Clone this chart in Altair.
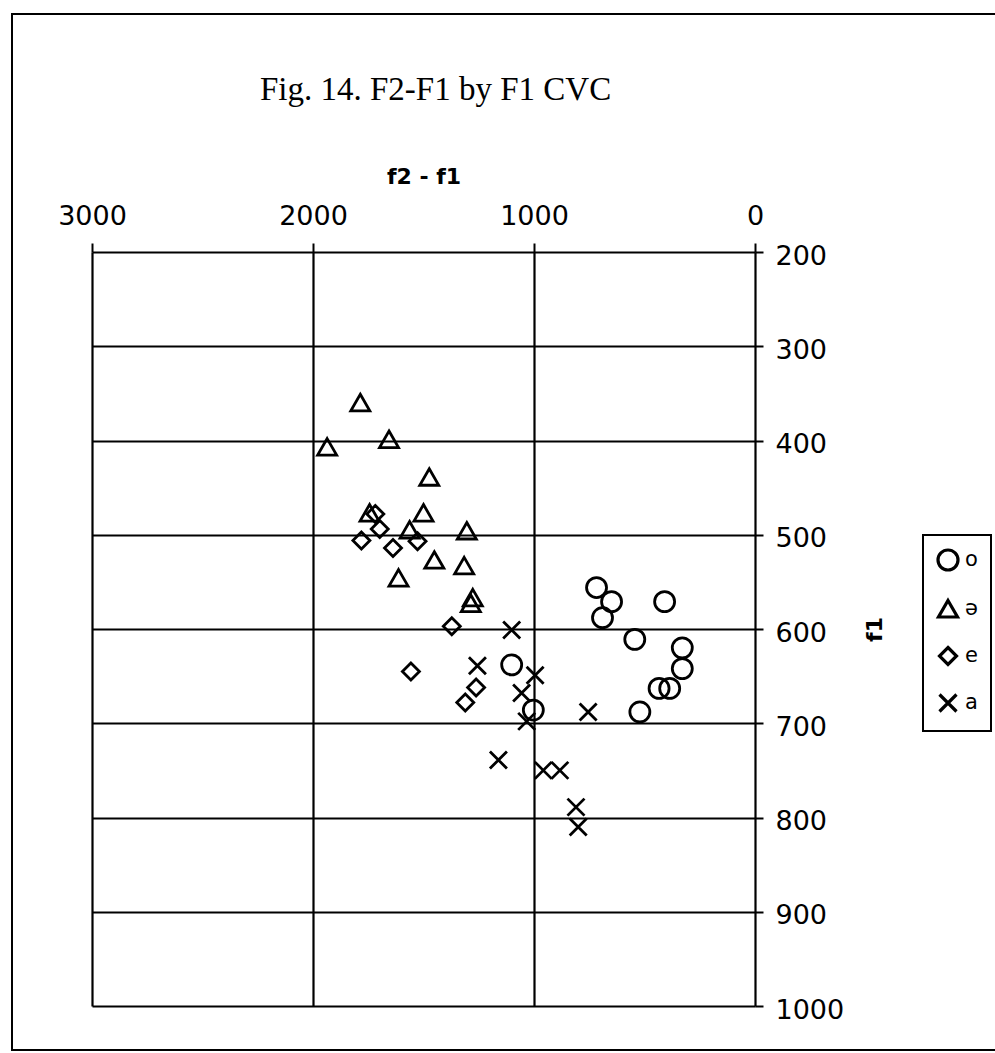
import altair as alt
import pandas as pd

# ---- data ----
categories = ["o", "ə", "e", "a"]

o_f2f1 = [717, 649, 690, 409, 544, 329, 329, 434, 386, 521, 1101, 1003]
o_f1 = [556, 571, 588, 571, 611, 620, 642, 663, 663, 688, 638, 686]

schwa_f2f1 = [1786, 1936, 1656, 1474, 1744, 1500, 1563, 1304, 1451, 1316, 1613, 1277, 1286]
schwa_f1 = [360, 407, 399, 439, 477, 477, 495, 496, 527, 533, 546, 567, 573]

e_f2f1 = [1718, 1698, 1781, 1638, 1527, 1372, 1557, 1262, 1311]
e_f1 = [478, 494, 506, 514, 507, 597, 645, 662, 678]

a_f2f1 = [1101, 1256, 995, 1056, 1033, 755, 1161, 958, 883, 810, 800]
a_f1 = [601, 639, 649, 668, 698, 688, 739, 750, 750, 789, 810]

x_ticks = [0, 1000, 2000, 3000]
y_ticks = [200, 300, 400, 500, 600, 700, 800, 900, 1000]

rows = []
for cat, xs, ys in [("o", o_f2f1, o_f1), ("ə", schwa_f2f1, schwa_f1),
                    ("e", e_f2f1, e_f1), ("a", a_f2f1, a_f1)]:
    for xv, yv in zip(xs, ys):
        rows.append({"vowel": cat, "f2f1": xv, "f1": yv})
df = pd.DataFrame(rows)

shape_paths = [
    "M1,0A1,1,0,1,1,-1,0A1,1,0,1,1,1,0Z",
    "M0,-0.85L0.95,0.8L-0.95,0.8Z",
    "M0,-0.85L0.85,0L0,0.85L-0.85,0Z",
    "M-0.85,-0.85L0.85,0.85M-0.85,0.85L0.85,-0.85",
]

PLOT_W, PLOT_H = 663, 754
LEFT, TOP = 92, 252

x_enc = alt.X(
    "f2f1:Q",
    scale=alt.Scale(domain=[0, 3000], reverse=True, nice=False, zero=False),
    axis=alt.Axis(
        orient="top", values=x_ticks, format="d", title="f2 - f1",
        titleFont="DejaVu Sans", titleFontSize=22, titleFontWeight="bold",
        titleColor="black", titlePadding=14,
        labelFont="DejaVu Sans", labelFontSize=27, labelColor="black",
        labelPadding=13, labelFlush=False, labelOverlap=False, labelBound=False,
        tickSize=9, tickWidth=2, tickColor="black",
        domain=False, grid=True, gridColor="black", gridWidth=2.2, gridOpacity=1,
    ),
)
y_enc = alt.Y(
    "f1:Q",
    scale=alt.Scale(domain=[200, 1000], reverse=True, nice=False, zero=False),
    axis=alt.Axis(
        orient="right", values=y_ticks, format="d", title="f1",
        titleAngle=270, titleBaseline="top",
        titleFont="DejaVu Sans", titleFontSize=22, titleFontWeight="bold",
        titleColor="black", titlePadding=21,
        labelFont="DejaVu Sans", labelFontSize=27, labelColor="black",
        labelPadding=12, labelOffset=4, labelFlush=False, labelOverlap=False,
        labelBound=False, labelBaseline="middle",
        tickSize=8, tickWidth=2, tickColor="black",
        domain=False, grid=True, gridColor="black", gridWidth=2.2, gridOpacity=1,
    ),
)

points = alt.Chart(df).mark_point(
    filled=False, color="black", strokeWidth=2.8, size=400, opacity=1,
).encode(
    x=x_enc,
    y=y_enc,
    shape=alt.Shape(
        "vowel:N",
        scale=alt.Scale(domain=categories, range=shape_paths),
        sort=categories,
        legend=alt.Legend(
            title=None, orient="none", legendX=831, legendY=283,
            padding=13, rowPadding=17, strokeColor="black",
            symbolSize=400, symbolStrokeWidth=3.2, symbolStrokeColor="black",
            symbolOpacity=1,
            labelFont="DejaVu Sans", labelFontSize=21, labelColor="black",
            labelOffset=5,
        ),
    ),
)

frame = alt.Chart(alt.Data(values=[{}])).mark_rect(
    fillOpacity=0, stroke="black", strokeWidth=2
).encode(
    x=alt.value(-80), x2=alt.value(915),
    y=alt.value(-238), y2=alt.value(798),
)

chart = alt.layer(frame, points).properties(
    width=PLOT_W, height=PLOT_H,
    padding={"left": LEFT, "top": TOP, "right": 995 - LEFT - PLOT_W, "bottom": 1053 - TOP - PLOT_H},
    autosize=alt.AutoSizeParams(type="none"),
    title=alt.Title(
        "Fig. 14. F2-F1 by F1 CVC", font="Liberation Serif", fontSize=33,
        fontWeight="normal", color="black", anchor="start", frame="group",
        baseline="alphabetic", dx=168, offset=-120,
    ),
    background="white",
).configure_view(stroke=None).configure_legend(strokeWidth=2)

chart.save("out.html", embed_options={"renderer": "svg", "actions": False})
